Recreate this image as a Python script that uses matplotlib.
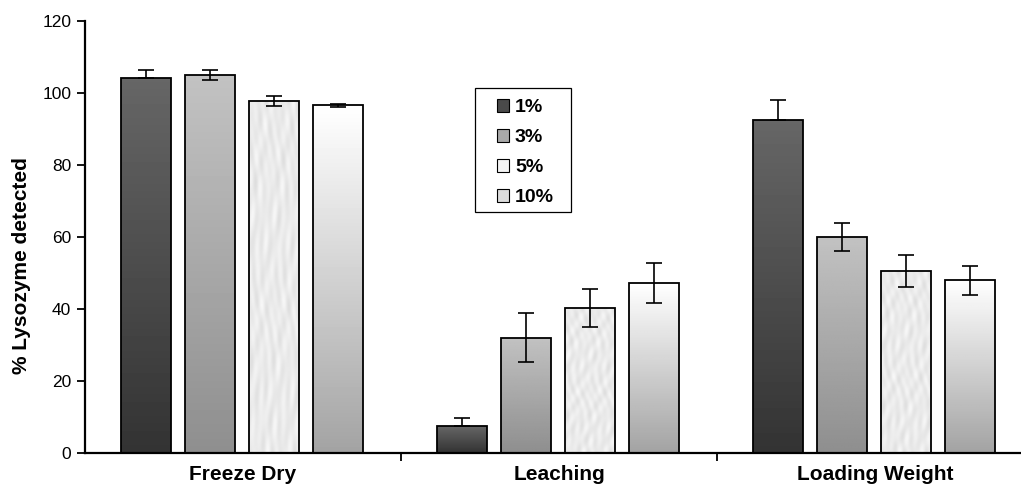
import numpy as np
import matplotlib
matplotlib.use("Agg")
from matplotlib import pyplot as plt
from matplotlib.patches import Rectangle

categories = ["Freeze Dry", "Leaching", "Loading Weight"]
series = ["1%", "3%", "5%", "10%"]
values = [
    [104.2, 7.5, 92.5],
    [105.0, 32.0, 60.0],
    [97.8, 40.3, 50.5],
    [96.6, 47.2, 48.0],
]
errors = [
    [2.2, 2.2, 5.5],
    [1.5, 6.8, 4.0],
    [1.5, 5.2, 4.5],
    [0.4, 5.5, 4.0],
]
yticks = [0, 20, 40, 60, 80, 100, 120]

# gradient (top, bottom) grey levels for each series; None = textured
fills = [(0.40, 0.20), (0.76, 0.56), None, (1.0, 0.64)]
legend_colors = ["#4a4a4a", "#a8a8a8", "#f4f4f4", "#dcdcdc"]


def texture(n=80):
    yy, xx = np.mgrid[0:n, 0:n] / n
    t = (np.sin(xx * 23 + yy * 9) * np.cos(yy * 31 - xx * 7)
         + 0.7 * np.sin(xx * 41 - yy * 17 + np.cos(yy * 13) * 3)
         + 0.5 * np.cos(yy * 53 + xx * 29))
    t = (t - t.min()) / (t.max() - t.min())
    return 0.87 + 0.10 * t


def main():
    plt.rcParams['font.family'] = ['Liberation Sans', 'DejaVu Sans']
    fig = plt.figure(figsize=(10.21, 4.92), dpi=100)
    ax = fig.add_axes([0.0833, 0.0793, 0.9285, 0.878])

    n = len(series)
    width = 0.158
    step = 0.2025
    x = np.arange(len(categories)) + 0.5

    tex = texture()
    for i in range(n):
        pos = x + (i - (n - 1) / 2) * step - 0.004
        lower = [0] * len(categories) if i == 0 else errors[i]
        bars = ax.bar(pos, values[i], width, facecolor='none',
                      edgecolor='black', linewidth=1.3, zorder=3)
        for b in bars:
            x0, w, h = b.get_x(), b.get_width(), b.get_height()
            if fills[i] is None:
                img = tex
            else:
                top, bot = fills[i]
                img = np.linspace(top, bot, 100).reshape(-1, 1)
            im = ax.imshow(img, cmap='gray', vmin=0, vmax=1, aspect='auto',
                           extent=(x0, x0 + w, 0, h), origin='upper',
                           interpolation='bilinear', zorder=2)
            im.set_clip_path(b)
        ax.errorbar(pos, values[i], yerr=[lower, errors[i]], fmt='none',
                    ecolor='black', elinewidth=1.2, capsize=5.5,
                    capthick=1.2, zorder=4)

    ax.set_xlim(0, 3)
    ax.set_ylim(0, 120)
    ax.set_yticks(yticks)
    ax.set_xticks(x)
    ax.set_xticklabels(categories, fontweight='bold', fontsize=15)
    ax.set_xticks([1, 2], minor=True)
    ax.tick_params(axis='x', which='major', length=0, pad=9)
    ax.tick_params(axis='x', which='minor', length=6, width=1.3, direction='out')
    ax.tick_params(axis='y', length=6, width=1.3, labelsize=12.5, pad=4)
    ax.set_ylabel('% Lysozyme detected', fontweight='bold', fontsize=15)
    ax.yaxis.set_label_coords(-0.0565, 0.435)
    for s in ['top', 'right']:
        ax.spines[s].set_visible(False)
    for s in ['left', 'bottom']:
        ax.spines[s].set_linewidth(1.6)

    handles = [Rectangle((0, 0), 1, 1, facecolor=c, edgecolor='black',
                         linewidth=0.8) for c in legend_colors]
    ax.legend(handles, series, loc='upper left',
              bbox_to_anchor=(497 / 1021, 1 - 99 / 492),
              bbox_transform=fig.transFigure, frameon=False,
              handlelength=0.62, handleheight=0.62, handletextpad=0.3,
              labelspacing=0.66, borderpad=0, borderaxespad=0,
              prop={'weight': 'bold', 'size': 14})
    fig.patches.append(Rectangle((475 / 1021, 1 - 212 / 492), 96 / 1021,
                                 124 / 492, transform=fig.transFigure,
                                 facecolor='none', edgecolor='black',
                                 linewidth=0.9, zorder=5))

    fig.savefig('out.png', dpi=100)


if __name__ == "__main__":
    main()
